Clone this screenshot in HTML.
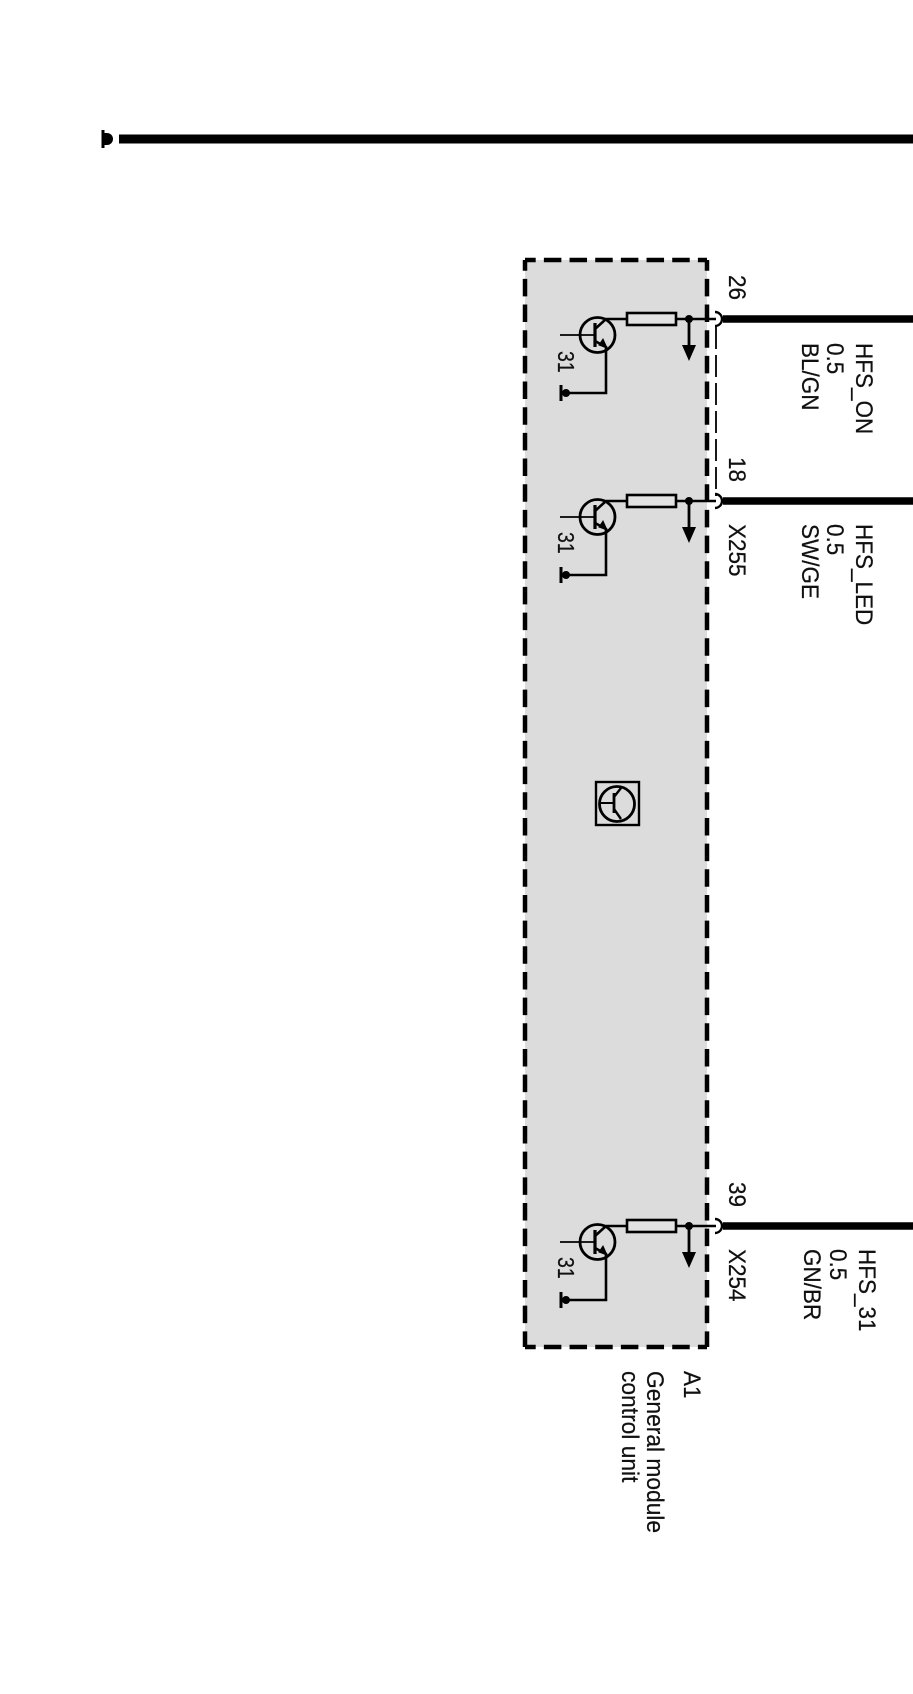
<!DOCTYPE html>
<html><head><meta charset="utf-8"><style>html,body{margin:0;padding:0;background:#fff}svg{display:block}text{font-family:"Liberation Sans",sans-serif;font-size:22.5px;fill:#111;stroke:#111;stroke-width:.2}</style></head><body>
<svg width="913" height="1694" viewBox="0 0 913 1694" xmlns="http://www.w3.org/2000/svg">
<defs>
<g id="u" fill="none" stroke="#000">
<circle cx="597.5" cy="335" r="17.5" stroke-width="2.8"/>
<path d="M560 335H595" stroke-width="1.8"/>
<path d="M595 323V347" stroke-width="3.2"/>
<path d="M595 329L606 319H627" stroke-width="2.6"/>
<path d="M595 341L606 347V393H566" stroke-width="2.6"/>
<path d="M599 345L607 348L603 339Z" fill="#000" stroke-width="1"/>
<circle cx="566" cy="393" r="4" fill="#000" stroke="none"/>
<path d="M561 385V401" stroke-width="3"/>
<rect x="627" y="313" width="49" height="12" fill="#e2e2e2" stroke-width="2.6"/>
<path d="M676 319H716" stroke-width="2.6"/>
<circle cx="689" cy="319" r="4" fill="#000" stroke="none"/>
<path d="M689 319V348" stroke-width="2.8"/>
<path d="M682 345H696L689 361Z" fill="#000" stroke="none"/>
<path d="M715 312A7 7 0 0 1 715 326" stroke-width="2.4"/>
<path d="M723 319H913" stroke-width="7.5"/>
</g>
</defs>
<rect x="525" y="260" width="182" height="1087" fill="#dcdcdc"/>
<g fill="none" stroke="#000" stroke-width="4.5" stroke-dasharray="17.5 8.17" stroke-dashoffset="6.8">
<path d="M525 260H707"/>
<path d="M525 260V1347"/>
<path d="M707 260V1347"/>
<path d="M525 1347H707"/>
</g>
<path d="M119 139H913" stroke="#000" stroke-width="9"/>
<path d="M103 130V148" stroke="#000" stroke-width="3"/>
<path d="M103 133H107A6 6 0 0 1 107 145H103Z" fill="#000"/>
<use href="#u"/>
<use href="#u" y="182"/>
<use href="#u" y="907"/>
<path d="M716 327V496" fill="none" stroke="#000" stroke-width="1.8" stroke-dasharray="22 6"/>
<rect x="596" y="782" width="43" height="43" fill="none" stroke="#000" stroke-width="2.4"/>
<g fill="none" stroke="#000">
<circle cx="617" cy="804" r="17.5" stroke-width="2.8"/>
<path d="M600 803H614" stroke-width="2"/>
<path d="M614 793V813" stroke-width="2.8"/>
<path d="M614 797L621 788M614 809L621 819" stroke-width="2.4"/>
</g>
<text transform="translate(729,275) rotate(90) scale(1,1.05)">26</text>
<text transform="translate(729,457) rotate(90) scale(1,1.05)">18</text>
<text transform="translate(729,524) rotate(90) scale(1,1.05)">X255</text>
<text transform="translate(729,1182) rotate(90) scale(1,1.05)">39</text>
<text transform="translate(729,1249) rotate(90) scale(1,1.05)">X254</text>
<text transform="translate(856,343) rotate(90) scale(1,1.05)">HFS_ON</text>
<text transform="translate(827,343) rotate(90) scale(1,1.05)">0.5</text>
<text transform="translate(802,343) rotate(90) scale(1,1.05)">BL/GN</text>
<text transform="translate(856,524) rotate(90) scale(1,1.05)">HFS_LED</text>
<text transform="translate(827,524) rotate(90) scale(1,1.05)">0.5</text>
<text transform="translate(802,524) rotate(90) scale(1,1.05)">SW/GE</text>
<text transform="translate(859,1249) rotate(90) scale(1,1.05)">HFS_31</text>
<text transform="translate(830,1249) rotate(90) scale(1,1.05)">0.5</text>
<text transform="translate(804,1249) rotate(90) scale(1,1.05)">GN/BR</text>
<text transform="translate(558,351) rotate(90) scale(1,1.2)" style="font-size:19.5px">31</text>
<text transform="translate(558,532) rotate(90) scale(1,1.2)" style="font-size:19.5px">31</text>
<text transform="translate(558,1257) rotate(90) scale(1,1.2)" style="font-size:19.5px">31</text>
<text transform="translate(684,1371) rotate(90) scale(1,1.05)">A1</text>
<text transform="translate(647,1371) rotate(90) scale(1,1.05)" style="font-size:22.8px">General module</text>
<text transform="translate(622,1371) rotate(90) scale(1,1.05)" style="font-size:22.8px">control unit</text>
</svg>
</body></html>
